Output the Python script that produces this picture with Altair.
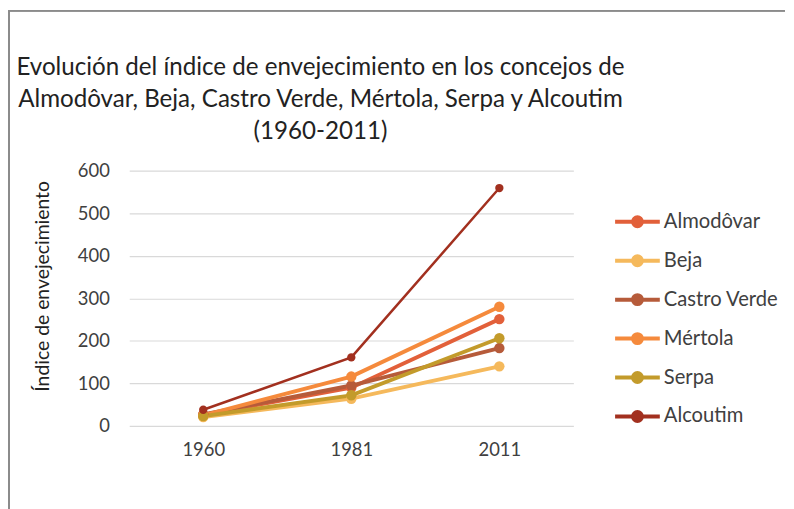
import altair as alt
import pandas as pd

years = ["1960", "1981", "2011"]
series = ["Almodôvar", "Beja", "Castro Verde", "Mértola", "Serpa", "Alcoutim"]
almodovar = [26, 90, 251]
beja = [21, 64, 140]
castro_verde = [27, 95, 183]
mertola = [25, 116, 280]
serpa = [23, 72, 206]
alcoutim = [38, 161, 559]
colors = ["#E2603A", "#F5B95C", "#B65B3A", "#F58A3C", "#C39B2B", "#A2301F"]

values = [almodovar, beja, castro_verde, mertola, serpa, alcoutim]
rows = []
for i, (s, vals) in enumerate(zip(series, values)):
    for y, v in zip(years, vals):
        rows.append({"Año": y, "Concejo": s, "Índice": v, "orden": i})
df = pd.DataFrame(rows)

FONT = "Lato, sans-serif"
TXT = "#404040"

color = alt.Color(
    "Concejo:N",
    scale=alt.Scale(domain=series, range=colors),
    sort=series,
    legend=alt.Legend(
        title=None,
        orient="none",
        legendX=487,
        legendY=27,
        symbolType="M -1 0 L 1 0 M 0.2 0 A 0.2 0.2 0 1 1 -0.2 0 A 0.2 0.2 0 1 1 0.2 0 Z",
        symbolSize=2025,
        symbolStrokeWidth=4,
        labelFont=FONT,
        labelFontSize=20.3,
        labelColor=TXT,
        labelOffset=2,
        rowPadding=2.2,
    ),
)

x = alt.X(
    "Año:O",
    sort=years,
    scale=alt.Scale(paddingInner=0, paddingOuter=0),
    axis=alt.Axis(
        title=None, labelAngle=0, ticks=False, domain=False, grid=False,
        labelFont=FONT, labelFontSize=18.5, labelColor=TXT, labelPadding=15,
    ),
)
y = alt.Y(
    "Índice:Q",
    scale=alt.Scale(domain=[0, 600]),
    axis=alt.Axis(
        values=[0, 100, 200, 300, 400, 500, 600],
        title="Índice de envejecimiento",
        titleFont=FONT, titleFontSize=19.5, titleFontWeight="normal", titleColor="#222222",
        titlePadding=25, titleY=116,
        labelFont=FONT, labelFontSize=18.5, labelColor=TXT, labelPadding=20,
        ticks=False, domain=False, gridColor="#D9D9D9", gridWidth=1.2,
    ),
)

is_alcoutim = alt.datum.Concejo == "Alcoutim"
base = alt.Chart(df).encode(x=x, y=y, color=color, order="orden:Q", detail="Concejo:N")
lines = base.mark_line().encode(
    strokeWidth=alt.condition(is_alcoutim, alt.value(2.5), alt.value(3.9))
)
points = base.mark_point(filled=True, opacity=1).encode(
    size=alt.condition(is_alcoutim, alt.value(70), alt.value(110))
)

frame_left = alt.Chart(df).mark_rule(color="#8C8C8C", strokeWidth=1).encode(
    x=alt.value(-121), y=alt.value(-161), y2=alt.value(345)
)
frame_top = alt.Chart(df).mark_rule(color="#8C8C8C", strokeWidth=1).encode(
    x=alt.value(-121), x2=alt.value(660), y=alt.value(-161)
)

chart = (
    alt.layer(frame_left, frame_top, lines, points)
    .properties(
        width=447,
        height=257,
        padding=0,
        view=alt.ViewBackground(strokeOpacity=0, strokeWidth=0),
        title=alt.Title(
            ["Evolución del índice de envejecimiento en los concejos de",
             "Almodôvar, Beja, Castro Verde, Mértola, Serpa y Alcoutim",
             "(1960-2011)"],
            font=FONT, fontSize=24.3, fontWeight="normal", color="#222222",
            anchor="middle", dx=-31, offset=0, dy=135, lineHeight=32,
        ),
    )
    .configure_view(stroke="transparent", strokeWidth=0, strokeOpacity=0)
    .configure_axisX(grid=False)
    .configure(background="white")
)

chart.save("out.html", embed_options={"renderer": "svg", "actions": False})
